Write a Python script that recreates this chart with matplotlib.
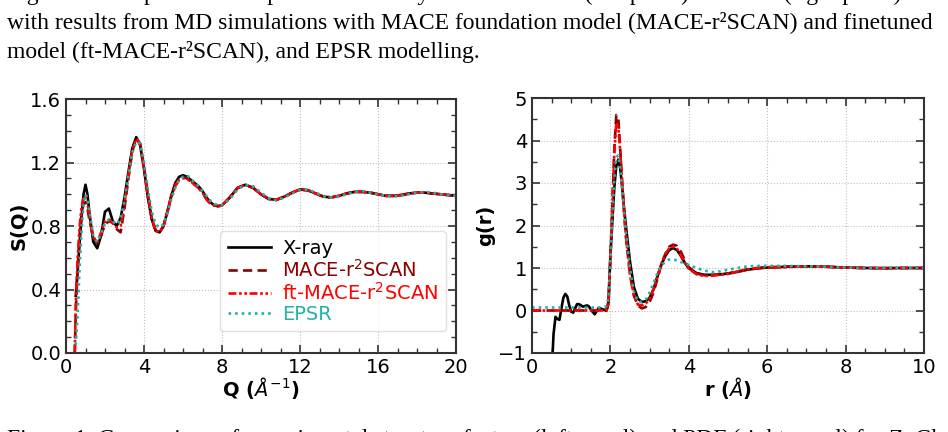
import matplotlib
matplotlib.use('Agg')
import matplotlib.pyplot as plt
import numpy as np
from matplotlib.ticker import MultipleLocator

# ---- S(Q), left panel ----
q = [0.45, 0.5, 0.6, 0.7, 0.8, 0.9, 1.0, 1.1, 1.2,
     1.4, 1.6, 1.8, 2.0, 2.2, 2.4, 2.6, 2.8, 3.0, 3.2,
     3.4, 3.6, 3.8, 4.0, 4.2, 4.4, 4.6, 4.8, 5.0, 5.2,
     5.4, 5.6, 5.8, 6.0, 6.2, 6.4, 6.6, 6.8, 7.0, 7.2,
     7.4, 7.6, 7.8, 8.0,
     8.4, 8.8, 9.2, 9.6, 10.0, 10.4, 10.8, 11.2, 11.6, 12.0,
     12.4, 12.8, 13.2, 13.6, 14.0, 14.4, 14.8, 15.2, 15.6, 16.0,
     16.4, 16.8, 17.2, 17.6, 18.0, 18.4, 18.8, 19.2, 19.6, 20.0]

sq_xray = [np.nan, 0.36, 0.52, 0.70, 0.86, 1.00, 1.06, 1.00, 0.88,
           0.70, 0.66, 0.74, 0.89, 0.91, 0.83, 0.80, 0.85, 0.98, 1.14,
           1.29, 1.36, 1.31, 1.16, 0.98, 0.84, 0.77, 0.76, 0.80, 0.89,
           0.99, 1.07, 1.11, 1.12, 1.11, 1.09, 1.07, 1.05, 1.02, 0.98,
           0.95, 0.93, 0.925, 0.93,
           0.98, 1.04, 1.06, 1.04, 1.00, 0.97, 0.965, 0.985, 1.01, 1.03,
           1.025, 1.005, 0.985, 0.98, 0.99, 1.005, 1.015, 1.015, 1.01, 1.00,
           0.99, 0.99, 0.995, 1.005, 1.01, 1.01, 1.005, 1.00, 0.995, 0.99]

sq_mace = [0.0, 0.25, 0.55, 0.75, 0.88, 0.94, 0.95, 0.91, 0.84,
           0.73, 0.69, 0.74, 0.81, 0.83, 0.82, 0.78, 0.76, 0.91, 1.10,
           1.27, 1.35, 1.32, 1.17, 0.99, 0.85, 0.77, 0.76, 0.80, 0.89,
           0.99, 1.06, 1.10, 1.11, 1.10, 1.08, 1.06, 1.04, 1.01, 0.97,
           0.94, 0.93, 0.925, 0.93,
           0.98, 1.04, 1.06, 1.04, 1.00, 0.97, 0.965, 0.985, 1.01, 1.03,
           1.025, 1.005, 0.985, 0.98, 0.99, 1.005, 1.015, 1.015, 1.01, 1.00,
           0.99, 0.99, 0.995, 1.005, 1.01, 1.01, 1.005, 1.00, 0.995, 0.99]

sq_ft = [0.0, 0.30, 0.60, 0.80, 0.92, 0.98, 0.99, 0.95, 0.86,
         0.73, 0.70, 0.76, 0.83, 0.84, 0.82, 0.79, 0.80, 0.94, 1.12,
         1.28, 1.35, 1.32, 1.17, 0.99, 0.85, 0.77, 0.76, 0.80, 0.89,
         0.98, 1.05, 1.09, 1.10, 1.10, 1.08, 1.06, 1.04, 1.01, 0.97,
         0.94, 0.93, 0.925, 0.93,
         0.98, 1.04, 1.06, 1.04, 1.00, 0.97, 0.965, 0.985, 1.01, 1.03,
         1.025, 1.005, 0.985, 0.98, 0.99, 1.005, 1.015, 1.015, 1.01, 1.00,
         0.99, 0.99, 0.995, 1.005, 1.01, 1.01, 1.005, 1.00, 0.995, 0.99]

sq_epsr = [np.nan, 0.05, 0.25, 0.55, 0.78, 0.93, 1.00, 0.97, 0.89,
           0.74, 0.70, 0.75, 0.82, 0.84, 0.83, 0.81, 0.84, 0.96, 1.12,
           1.26, 1.33, 1.32, 1.20, 1.03, 0.89, 0.81, 0.79, 0.81, 0.88,
           0.97, 1.04, 1.09, 1.11, 1.12, 1.10, 1.07, 1.05, 1.02, 0.99,
           0.96, 0.94, 0.93, 0.93,
           0.97, 1.03, 1.06, 1.05, 1.01, 0.975, 0.96, 0.98, 1.005, 1.025,
           1.03, 1.01, 0.99, 0.98, 0.985, 1.00, 1.015, 1.02, 1.01, 1.00,
           0.99, 0.985, 0.99, 1.00, 1.01, 1.015, 1.01, 1.00, 0.995, 0.99]

# ---- g(r), right panel ----
r_xray = [0.5, 0.55, 0.6, 0.65, 0.7, 0.75, 0.8, 0.85, 0.9, 0.95,
          1.0, 1.05, 1.1, 1.15, 1.2, 1.3, 1.4, 1.45, 1.5, 1.6,
          1.7, 1.8, 1.9, 1.95, 2.0, 2.05, 2.1, 2.15, 2.2, 2.25,
          2.3, 2.35, 2.4, 2.5, 2.6, 2.7, 2.8, 2.9, 3.0, 3.1,
          3.2, 3.3, 3.4, 3.5, 3.6, 3.7, 3.8, 3.9, 4.0, 4.2,
          4.4, 4.6, 4.8, 5.0, 5.25, 5.5, 5.75, 6.0, 6.5, 7.0,
          7.5, 8.0, 8.5, 9.0, 9.5, 10.0]
gr_xray = [-1.5, -0.55, -0.15, -0.2, -0.22, 0.05, 0.3, 0.39, 0.33, 0.12,
           -0.03, -0.05, 0.05, 0.15, 0.15, 0.09, 0.12, 0.1, 0.02, -0.09,
           0.06, 0.03, 0.0, 0.2, 1.3, 2.1, 2.9, 3.4, 3.55, 3.35,
           2.9, 2.4, 1.95, 1.15, 0.55, 0.28, 0.2, 0.22, 0.3, 0.5,
           0.8, 1.08, 1.28, 1.42, 1.47, 1.42, 1.28, 1.12, 1.0, 0.88,
           0.84, 0.84, 0.85, 0.87, 0.91, 0.96, 0.99, 1.01, 1.03, 1.04,
           1.03, 1.01, 1.0, 1.0, 1.0, 1.0]

r_sim = [0.0, 1.8, 1.9, 1.95, 2.0, 2.05, 2.1, 2.15, 2.2, 2.25,
         2.3, 2.35, 2.4, 2.5, 2.6, 2.7, 2.8, 2.9, 3.0, 3.1,
         3.2, 3.3, 3.4, 3.5, 3.6, 3.7, 3.8, 3.9, 4.0, 4.2,
         4.4, 4.6, 4.8, 5.0, 5.25, 5.5, 5.75, 6.0, 6.5, 7.0,
         7.5, 8.0, 8.5, 9.0, 9.5, 10.0]
gr_mace = [0.0, 0.0, 0.0, 0.15, 1.2, 2.5, 3.8, 4.6, 4.55, 3.8,
           3.0, 2.3, 1.7, 0.85, 0.35, 0.12, 0.05, 0.08, 0.2, 0.42,
           0.75, 1.08, 1.33, 1.5, 1.55, 1.52, 1.38, 1.18, 1.02, 0.87,
           0.83, 0.83, 0.85, 0.87, 0.92, 0.97, 1.0, 1.02, 1.03, 1.04,
           1.03, 1.01, 1.0, 0.99, 1.0, 1.0]
gr_ft = [0.0, 0.0, 0.0, 0.2, 1.25, 2.5, 3.7, 4.4, 4.35, 3.75,
         3.0, 2.3, 1.7, 0.85, 0.35, 0.14, 0.12, 0.16, 0.28, 0.5,
         0.8, 1.1, 1.32, 1.46, 1.5, 1.45, 1.3, 1.12, 0.98, 0.85,
         0.81, 0.82, 0.84, 0.86, 0.92, 0.97, 1.0, 1.01, 1.02, 1.04,
         1.03, 1.01, 1.0, 0.99, 1.0, 1.0]
gr_epsr = [0.07, 0.07, 0.1, 0.3, 1.2, 2.2, 3.1, 3.6, 3.65, 3.35,
           2.85, 2.3, 1.8, 1.0, 0.45, 0.22, 0.2, 0.25, 0.42, 0.65,
           0.88, 1.05, 1.15, 1.2, 1.2, 1.18, 1.14, 1.1, 1.07, 1.0,
           0.94, 0.9, 0.92, 0.96, 1.0, 1.04, 1.05, 1.05, 1.05, 1.04,
           1.03, 1.01, 1.0, 1.0, 1.0, 1.0]

labels = ['X-ray', 'MACE-r$^2$SCAN', 'ft-MACE-r$^2$SCAN', 'EPSR']
colors = ['black', 'darkred', 'red', 'lightseagreen']

caption_top = 'Figure 2. Comparison of experimental X-ray structure factor (left panel) and PDF (right panel)'
caption_2 = 'with results from MD simulations with MACE foundation model (MACE-r\u00b2SCAN) and finetuned'
caption_3 = 'model (ft-MACE-r\u00b2SCAN), and EPSR modelling.'
caption_bottom = 'Figure 1. Comparison of experimental structure factors (left panel) and PDF (right panel) for ZnCl'

W, H = 948, 432
fig = plt.figure(figsize=(W / 100, H / 100), dpi=100)


def style_axes(ax):
    ax.tick_params(which='both', direction='in', top=True, right=True,
                   labelsize=14, color='0.2')
    ax.tick_params(which='major', length=6, width=1.2)
    ax.tick_params(which='minor', length=3.5, width=1.0)
    for s in ax.spines.values():
        s.set_linewidth(1.5)
        s.set_color('0.2')
    ax.grid(True, which='major', linestyle=':', color='0.75', linewidth=0.8)


def draw(ax, xs, ys):
    ax.plot(xs[0], ys[0], color=colors[0], lw=1.9, ls='-', label=labels[0])
    ax.plot(xs[1], ys[1], color=colors[1], lw=1.9, ls=(0, (3.5, 2)), label=labels[1])
    ax.plot(xs[2], ys[2], color=colors[2], lw=1.9, ls=(0, (3, 1, 1, 1, 1, 1)), label=labels[2])
    ax.plot(xs[3], ys[3], color=colors[3], lw=1.9, ls=(0, (1, 1.5)), label=labels[3])


ax1 = fig.add_axes([66 / W, 1 - 353 / H, 390 / W, 254 / H])
draw(ax1, [q, q, q, q], [sq_xray, sq_mace, sq_ft, sq_epsr])
ax1.set_xlim(0, 20)
ax1.set_ylim(0, 1.6)
ax1.xaxis.set_major_locator(MultipleLocator(4))
ax1.xaxis.set_minor_locator(MultipleLocator(1))
ax1.yaxis.set_major_locator(MultipleLocator(0.4))
ax1.yaxis.set_minor_locator(MultipleLocator(0.1))
ax1.set_xlabel(r'Q ($\AA^{-1}$)', fontsize=14, fontweight='bold', labelpad=-1)
ax1.set_ylabel('S(Q)', fontsize=14, fontweight='bold', labelpad=1)
style_axes(ax1)
leg = ax1.legend(loc='lower right', bbox_to_anchor=(0.975, 0.085), borderaxespad=0,
                 fontsize=14, labelspacing=0.05, handlelength=2.2, handletextpad=0.6,
                 borderpad=0.4, edgecolor='0.85')
for t, c in zip(leg.get_texts(), colors):
    t.set_color(c)

ax2 = fig.add_axes([532 / W, 1 - 353 / H, 392 / W, 255 / H])
draw(ax2, [r_xray, r_sim, r_sim, r_sim], [gr_xray, gr_mace, gr_ft, gr_epsr])
ax2.set_xlim(0, 10)
ax2.set_ylim(-1, 5)
ax2.xaxis.set_major_locator(MultipleLocator(2))
ax2.xaxis.set_minor_locator(MultipleLocator(0.5))
ax2.yaxis.set_major_locator(MultipleLocator(1))
ax2.yaxis.set_minor_locator(MultipleLocator(0.5))
ax2.set_xlabel(r'r ($\AA$)', fontsize=14, fontweight='bold', labelpad=-1)
ax2.set_ylabel('g(r)', fontsize=14, fontweight='bold', labelpad=2)
style_axes(ax2)

# caption text around the figure
serif = dict(family='Liberation Serif', fontsize=17, color='black')
fig.text(7 / W, 1 - 0 / H, caption_top, va='baseline', **serif)
fig.text(7 / W, 1 - 28 / H, caption_2, va='baseline', **serif)
fig.text(7 / W, 1 - 58 / H, caption_3, va='baseline', **serif)
fig.text(7 / W, 1 - 445 / H, caption_bottom, va='baseline', **serif)

fig.savefig('out.png', dpi=100)
